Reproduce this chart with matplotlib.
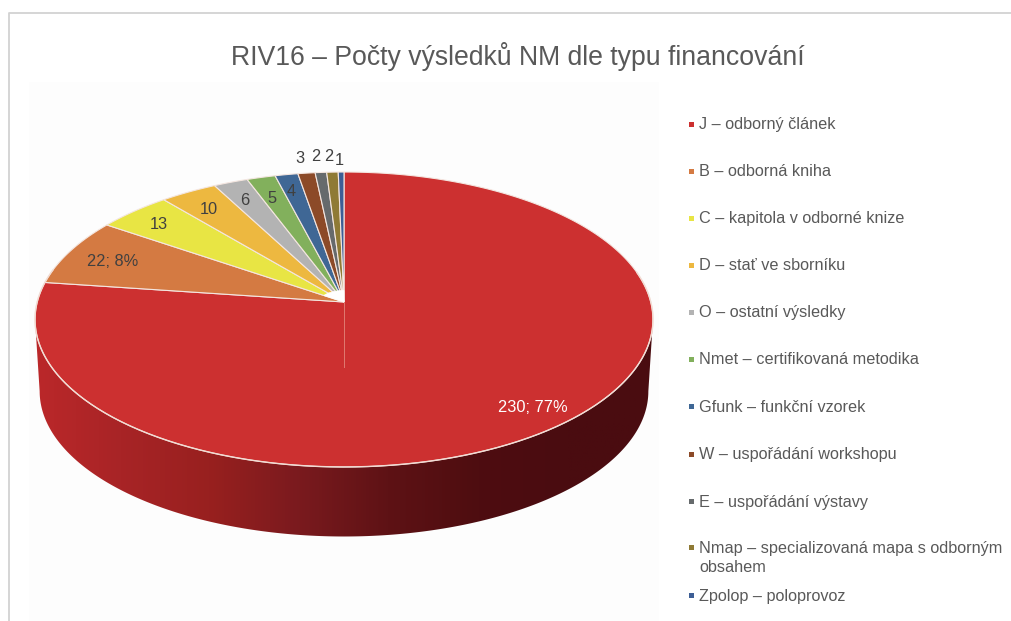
import numpy as np
import matplotlib
matplotlib.use('Agg')
import matplotlib.pyplot as plt
from matplotlib.colors import LinearSegmentedColormap
from matplotlib.patches import Polygon, Rectangle

plt.rcParams['font.family'] = ['Liberation Sans', 'DejaVu Sans']

# Data
title = 'RIV16 – Počty výsledků NM dle typu financování'
categories = ['J – odborný článek', 'B – odborná kniha', 'C – kapitola v odborné knize',
              'D – stať ve sborníku', 'O – ostatní výsledky', 'Nmet – certifikovaná metodika',
              'Gfunk – funkční vzorek', 'W – uspořádání workshopu', 'E – uspořádání výstavy',
              'Nmap – specializovaná mapa s odborným\nobsahem', 'Zpolop – poloprovoz']
values = [230, 22, 13, 10, 6, 5, 4, 3, 2, 2, 1]
data_labels = ['230; 77%', '22; 8%', '13', '10', '6', '5', '4', '3', '2', '2', '1']
colors = ['#CC3030', '#D47A42', '#E8E544', '#EDB840', '#B3B3B3', '#82B05C',
          '#3F6795', '#8C4A28', '#666A6C', '#8F7A35', '#3D5E95']

# Layout (pixels of the 1012x621 picture)
label_radius = [0.874, 0.83, 0.863, 0.842, 0.848, 0.828, 0.867, 1.142, 1.152, 1.152, 1.114]
legend_y = [125, 172, 219, 266, 313, 360, 407, 455, 502, 558, 596]
side_colors = ['#BC282A', '#A82426', '#98201F', '#7A1A1E', '#5E1215', '#4E0D10', '#4A0C10', '#4A0C10']
CX, CY = 344, 302      # pie apex
A, B, K = 306.8, 145.4, 0.1186   # perspective of the disc
DEPTH = 72
LOWER = 0.985


def project(theta, r=1.0, dy=0.0, scale=1.0):
    # theta runs clockwise from 12 o'clock, in radians
    u = r * np.sin(theta)
    v = r * np.cos(theta)
    d = 1 + K * v
    return CX + scale * A * u / d, CY + dy - scale * B * v / d


fig = plt.figure(figsize=(10.12, 6.21), dpi=100)
ax = fig.add_axes([0, 0, 1, 1])
ax.set_xlim(0, 1012)
ax.set_ylim(621, 0)
ax.axis('off')

# frame and faint panel
ax.add_patch(Rectangle((29, 82), 630, 539, fc='#FDFDFD', ec='none', zorder=0))
ax.plot([9.5, 9.5, 1012], [621, 12.5, 12.5], color='#D2D2D2', lw=1.3, zorder=1)

# side of the disc, gradient clipped to the band between both rims
t_start = np.arccos(-K)
t = np.linspace(t_start, 2 * np.pi - t_start, 400)
x_top, y_top = project(t)
x_low, y_low = project(t, dy=DEPTH, scale=LOWER)
band = Polygon(np.column_stack([np.r_[x_top, x_low[::-1]], np.r_[y_top, y_low[::-1]]]),
               fc='none', ec='none', transform=ax.transData)
ax.add_patch(band)
cmap = LinearSegmentedColormap.from_list('side', side_colors)
grad = np.linspace(0, 1, 512).reshape(1, -1)
img = ax.imshow(grad, cmap=cmap, extent=(30, 658, 540, 310), aspect='auto', zorder=2)
img.set_clip_path(band)
ax.set_xlim(0, 1012)
ax.set_ylim(621, 0)

# top of the disc
fractions = np.cumsum([0] + values) / sum(values)
for i in range(len(values)):
    t0, t1 = 2 * np.pi * fractions[i], 2 * np.pi * fractions[i + 1]
    t = np.linspace(t0, t1, max(4, int(values[i] * 3)))
    xs, ys = project(t)
    pts = np.column_stack([np.r_[CX, xs], np.r_[CY, ys]])
    ax.add_patch(Polygon(pts, closed=True, fc=colors[i], ec='#F4E6E0', lw=0.8, zorder=3))

# small white gap where the narrow slices meet
t = np.linspace(2 * np.pi * fractions[2], 2 * np.pi, 40)
xs, ys = project(t, r=0.08)
ax.add_patch(Polygon(np.column_stack([np.r_[CX, xs], np.r_[CY, ys]]), closed=True,
                     fc='white', ec='white', lw=0.5, zorder=4))

# light rim along the front and the thin start line
t = np.linspace(np.radians(78), np.radians(283), 300)
x_rim, y_rim = project(t)
ax.plot(x_rim, y_rim, color='#F2DCD4', lw=1.0, zorder=4)
ax.plot([CX, CX], [CY, CY + 65], color='#E07A70', lw=0.7, zorder=4)

# data labels
for i, lab in enumerate(data_labels):
    mid = np.pi * (fractions[i] + fractions[i + 1])
    x, y = project(mid, r=label_radius[i])
    ax.text(x - 2, y + 1.5, lab, ha='center', va='center', fontsize=11.8,
            color='white' if i == 0 else '#404040', zorder=5)

# title
ax.text(518, 56.5, title, ha='center', va='center', fontsize=19.2, color='#595959')

# legend
for i, cat in enumerate(categories):
    ax.add_patch(Rectangle((689, legend_y[i] - 3.5 - (10 if '\n' in cat else 0)), 5, 5,
                           fc=colors[i], ec='none', zorder=5))
    ax.text(699, legend_y[i], cat, ha='left', va='center', fontsize=11.7, color='#595959',
            linespacing=1.25)

plt.savefig('out.png', dpi=100)
